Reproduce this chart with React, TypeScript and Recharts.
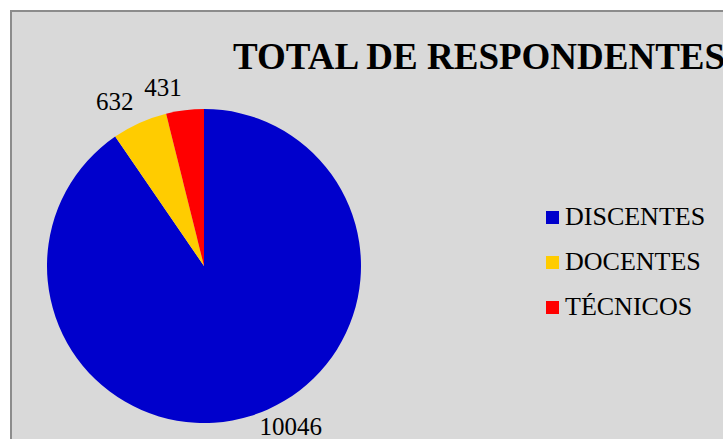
import React from 'react';
import { PieChart, Pie, Cell, Legend } from 'recharts';

const title = 'TOTAL DE RESPONDENTES';
const categories = ['DISCENTES', 'DOCENTES', 'TÉCNICOS'];
const values = [10046, 632, 431];
const colors = ['#0000CC', '#FFCC00', '#FF0000'];

const data = categories.map((name, i) => ({ name, value: values[i] }));

const FONT = '"Liberation Serif", "Times New Roman", serif';
const RAD = Math.PI / 180;

const renderLabel = (props: any) => {
  const { cx, cy, midAngle, outerRadius, value } = props;
  const r = outerRadius + 10;
  const x = cx + r * Math.cos(-midAngle * RAD);
  const y = cy + r * Math.sin(-midAngle * RAD);
  const right = x > cx;
  const below = y > cy;
  return (
    <text
      x={right ? x + 6 : x - 2}
      y={below ? y + 9 : y - 4}
      textAnchor={right ? 'start' : 'end'}
      fontFamily={FONT}
      fontSize={25}
      fill="#000"
    >
      {value}
    </text>
  );
};

const renderLegend = () => (
  <svg width={180} height={140} style={{ display: 'block', overflow: 'visible' }}>
    {data.map((d, i) => (
      <g key={d.name}>
        <rect x={0} y={11 + i * 45} width={13} height={13} fill={colors[i]} />
        <text x={19} y={25 + i * 45} fontFamily={FONT} fontSize={26} fill="#000">
          {d.name}
        </text>
      </g>
    ))}
  </svg>
);

export default function App() {
  return (
    <div style={{ position: 'absolute', left: 0, top: 0, width: 723, height: 439, overflow: 'hidden', background: '#fff' }}>
      <div
        style={{
          position: 'absolute',
          left: 10,
          top: 10,
          width: 780,
          height: 500,
          background: '#D9D9D9',
          borderLeft: '2px solid #8C8C8C',
          borderTop: '2px solid #8C8C8C',
        }}
      />
      <svg width={723} height={439} style={{ position: 'absolute', left: 0, top: 0 }}>
        <text x={233} y={69} fontFamily={FONT} fontWeight="bold" fontSize={37} fill="#000">
          {title}
        </text>
      </svg>
      <div style={{ position: 'absolute', left: 0, top: 0 }}>
        <PieChart width={723} height={439} margin={{ top: 0, right: 0, bottom: 0, left: 0 }}>
          <Pie
            data={data}
            dataKey="value"
            nameKey="name"
            cx={204}
            cy={266}
            outerRadius={157}
            startAngle={90}
            endAngle={-270}
            stroke="none"
            label={renderLabel}
            labelLine={false}
            isAnimationActive={false}
          >
            {data.map((d, i) => (
              <Cell key={d.name} fill={colors[i]} />
            ))}
          </Pie>
          <Legend
            content={renderLegend}
            wrapperStyle={{ position: 'absolute', left: 546, top: 200, width: 180, height: 140 }}
          />
        </PieChart>
      </div>
    </div>
  );
}
